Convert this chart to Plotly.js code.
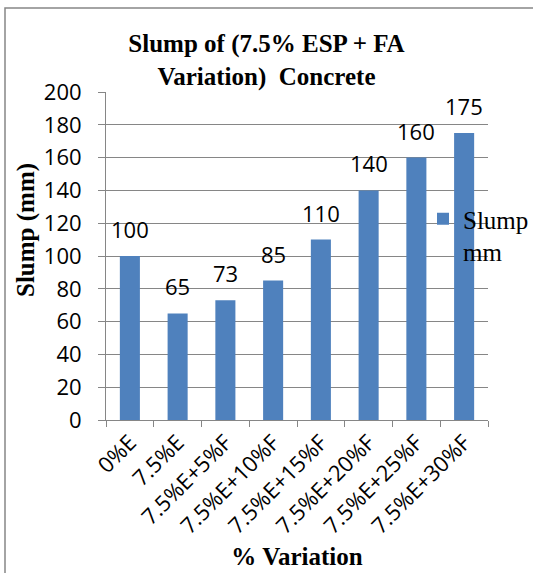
<!DOCTYPE html>
<html>
<head>
<meta charset="utf-8">
<script src="https://cdn.plot.ly/plotly-3.0.1.min.js"></script>
<style>
  html, body { margin: 0; padding: 0; background: #ffffff; }
  #chart { width: 533px; height: 573px; }
</style>
</head>
<body>
<div id="chart"></div>
<script>
// Slump test results for ESP + fly ash mixes
const categories = ['0%E', '7.5%E', '7.5%E+5%F', '7.5%E+10%F', '7.5%E+15%F', '7.5%E+20%F', '7.5%E+25%F', '7.5%E+30%F'];
const slumpValues = [100, 65, 73, 85, 110, 140, 160, 175];
const seriesName = 'Slump<br>mm';
const yTicks = [0, 20, 40, 60, 80, 100, 120, 140, 160, 180, 200];

const W = 533, H = 573;
const m = { l: 106, r: 45, t: 92, b: 153, autoexpand: false };
const pw = W - m.l - m.r, ph = H - m.t - m.b;
// pixel -> paper helpers for the outer frame, legend and side title
const px = v => (v - m.l) / pw;
const py = v => (H - m.b - v) / ph;

const serif = 'Liberation Serif';
const sans = 'Open Sans';

const trace = {
  type: 'bar',
  x: categories,
  y: slumpValues,
  name: seriesName,
  marker: { color: '#4F81BD' },
  showlegend: true
};

// value labels sit a little above each bar top
const valueLabels = categories.map((c, i) => ({
  x: c, y: slumpValues[i], xref: 'x', yref: 'y',
  text: String(slumpValues[i]),
  showarrow: false, yanchor: 'bottom', yshift: 10,
  font: { family: sans, size: 22, color: '#000000' }
}));

// vertical axis title, placed a bit above the plot's middle
const yTitle = {
  x: px(26), y: py(230), xref: 'paper', yref: 'paper',
  text: '<b>Slump (mm)</b>', textangle: -90,
  showarrow: false, xanchor: 'center', yanchor: 'middle',
  font: { family: serif, size: 25, color: '#000000' }
};

const layout = {
  width: W, height: H,
  margin: m,
  paper_bgcolor: '#ffffff',
  plot_bgcolor: '#ffffff',
  bargap: 0.58,
  title: {
    text: '<b>Slump of (7.5% ESP + FA<br>Variation)  Concrete</b>',
    font: { family: serif, size: 25, color: '#000000' },
    x: 0.5, xref: 'container', xanchor: 'center',
    y: 1 - 52 / H, yref: 'container', yanchor: 'middle',
    automargin: false
  },
  xaxis: {
    type: 'category',
    tickangle: -45,
    tickfont: { family: sans, size: 22, color: '#000000' },
    ticks: 'outside', tickson: 'boundaries', ticklen: 6, tickcolor: '#868686',
    showline: true, linecolor: '#868686', linewidth: 1,
    showgrid: false,
    title: {
      text: '<b>% Variation</b>',
      font: { family: serif, size: 25, color: '#000000' },
      standoff: 9
    },
    automargin: false
  },
  yaxis: {
    range: [0, 200],
    tickvals: yTicks,
    tickfont: { family: sans, size: 22, color: '#000000' },
    ticks: 'outside', ticklen: 7, tickcolor: '#868686',
    ticklabelstandoff: 12,
    showline: true, linecolor: '#868686', linewidth: 1,
    showgrid: true, gridcolor: '#868686', gridwidth: 1,
    zeroline: false,
    automargin: false
  },
  annotations: valueLabels.concat([yTitle]),
  showlegend: true,
  legend: {
    x: px(423), xanchor: 'left',
    y: py(196), yanchor: 'top',
    valign: 'top',
    bgcolor: 'rgba(0,0,0,0)',
    font: { family: serif, size: 25, color: '#000000' },
    itemwidth: 30
  },
  shapes: [{
    type: 'rect', xref: 'paper', yref: 'paper',
    x0: px(5), x1: px(560), y0: py(600), y1: py(8),
    line: { color: '#868686', width: 1.5 },
    fillcolor: 'rgba(0,0,0,0)', layer: 'below'
  }]
};

Plotly.newPlot('chart', [trace], layout, { staticPlot: true, displayModeBar: false });
</script>
</body>
</html>
